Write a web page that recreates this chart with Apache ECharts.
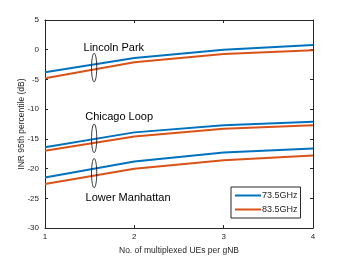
<!DOCTYPE html>
<html><head><meta charset="utf-8">
<script src="https://cdn.jsdelivr.net/npm/echarts@6/dist/echarts.min.js"></script>
<style>html,body{margin:0;padding:0;background:#fff}#c{width:346px;height:260px}</style>
</head><body><div id="c"></div>
<script>
const xValues = [1, 2, 3, 4];
const lincoln735 = [-3.8, -1.4, 0.0, 0.8];
const lincoln835 = [-4.8, -2.1, -0.7, -0.1];
const chicago735 = [-16.4, -13.9, -12.7, -12.1];
const chicago835 = [-17.0, -14.6, -13.3, -12.7];
const manhattan735 = [-21.5, -18.8, -17.3, -16.6];
const manhattan835 = [-22.6, -20.0, -18.6, -17.8];
const ellipses = [[1.55, -3.0, 2.4], [1.55, -14.9, 2.4], [1.55, -20.75, 2.45]];
const areaLabels = [[1.77, 0.3, 'Lincoln Park'], [1.83, -11.3, 'Chicago Loop'], [1.93, -24.9, 'Lower Manhattan']];
const legendNames = ['73.5GHz', '83.5GHz'];
const colors = ['#0072BD', '#D95319'];

const FONT = 'Liberation Sans, Arial, sans-serif';
function pair(arr) { return xValues.map((x, i) => [x, arr[i]]); }
function lineSeries(name, arr, color) {
  return { type: 'line', name: name, data: pair(arr), symbol: 'none', smooth: false,
    lineStyle: { color: color, width: 2 }, itemStyle: { color: color }, z: 3 };
}
const axisLine = { show: true, onZero: false, lineStyle: { color: '#262626', width: 1 } };
const chart = echarts.init(document.getElementById('c'), null, { renderer: 'canvas' });
chart.setOption({
  animation: false,
  backgroundColor: '#fff',
  grid: { left: 45, right: 33, top: 20, bottom: 29 },
  xAxis: [
    { type: 'value', min: 1, max: 4, interval: 1, axisLine: axisLine,
      axisTick: { inside: true, length: 3, lineStyle: { color: '#262626' } },
      axisLabel: { color: '#262626', fontSize: 8, fontFamily: FONT, margin: 5 },
      splitLine: { show: false },
      name: 'No. of multiplexed UEs per gNB', nameLocation: 'middle', nameGap: 17,
      nameTextStyle: { color: '#262626', fontSize: 8.5, fontFamily: FONT } },
    { type: 'value', min: 1, max: 4, interval: 1, position: 'top', axisLine: axisLine,
      axisTick: { inside: true, length: 3, lineStyle: { color: '#262626' } },
      axisLabel: { show: false }, splitLine: { show: false } }
  ],
  yAxis: [
    { type: 'value', min: -30, max: 5, interval: 5, axisLine: axisLine,
      axisTick: { inside: true, length: 3, lineStyle: { color: '#262626' } },
      axisLabel: { color: '#262626', fontSize: 8, fontFamily: FONT, margin: 6 },
      splitLine: { show: false },
      name: 'INR 95th percentile (dB)', nameLocation: 'middle', nameGap: 19, nameMoveOverlap: false,
      nameTextStyle: { color: '#262626', fontSize: 8.5, fontFamily: FONT } },
    { type: 'value', min: -30, max: 5, interval: 5, position: 'right', axisLine: axisLine,
      axisTick: { inside: true, length: 3, lineStyle: { color: '#262626' } },
      axisLabel: { show: false }, splitLine: { show: false } }
  ],
  legend: {
    data: legendNames.map(n => ({ name: n, icon: 'rect' })),
    orient: 'vertical', left: 231, top: 187, itemWidth: 26, itemHeight: 2, itemGap: 5,
    padding: [4, 3, 4, 4], borderColor: '#262626', borderWidth: 1, backgroundColor: '#fff',
    textStyle: { color: '#262626', fontSize: 9, fontFamily: FONT, padding: [0, 0, 0, -4] },
    selectedMode: false
  },
  series: [
    lineSeries(legendNames[0], lincoln735, colors[0]),
    lineSeries(legendNames[1], lincoln835, colors[1]),
    lineSeries(legendNames[0], chicago735, colors[0]),
    lineSeries(legendNames[1], chicago835, colors[1]),
    lineSeries(legendNames[0], manhattan735, colors[0]),
    lineSeries(legendNames[1], manhattan835, colors[1]),
    {
      type: 'custom', data: ellipses, z: 4, silent: true,
      renderItem: function (params, api) {
        const c = api.coord([api.value(0), api.value(1)]);
        const t = api.coord([api.value(0), api.value(1) + api.value(2)]);
        const ry = Math.abs(c[1] - t[1]);
        const rx = 2.6;
        const pts = [];
        for (let i = 0; i < 48; i++) {
          const a = i / 48 * Math.PI * 2;
          pts.push([c[0] + rx * Math.cos(a), c[1] + ry * Math.sin(a)]);
        }
        return { type: 'polygon', shape: { points: pts },
          style: { fill: 'none', stroke: '#000', lineWidth: 0.8 } };
      }
    },
    {
      type: 'custom', data: areaLabels, z: 5, silent: true,
      renderItem: function (params, api) {
        const p = api.coord([api.value(0), api.value(1)]);
        return { type: 'text', x: p[0], y: p[1],
          style: { text: areaLabels[params.dataIndex][2], fill: '#000', fontSize: 11,
            fontFamily: FONT, align: 'center', verticalAlign: 'middle' } };
      }
    }
  ]
});
</script></body></html>
